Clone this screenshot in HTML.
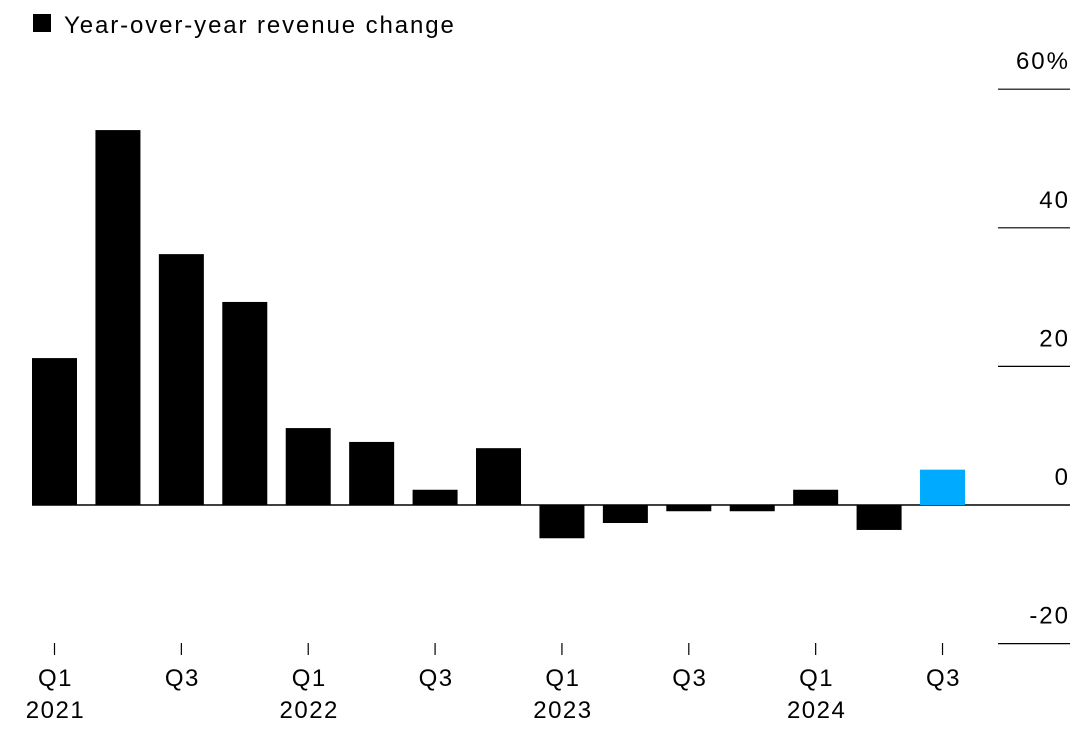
<!DOCTYPE html>
<html><head><meta charset="utf-8"><style>
body{margin:0;background:#fff;width:1088px;height:735px;overflow:hidden;font-family:"Liberation Sans",sans-serif}
svg text{font-family:"Liberation Sans",sans-serif;fill:#000}
</style></head><body>
<svg id="chart" width="1088" height="735">
<rect x="33" y="14" width="18" height="18" fill="#000"/>
<text x="64" y="33" font-size="24" letter-spacing="1.9">Year-over-year revenue change</text>
<g id="grid"></g><g id="bars"></g><g id="xaxis"></g>
</svg>
<script>
const categories=["Q1 2021","Q2 2021","Q3 2021","Q4 2021","Q1 2022","Q2 2022","Q3 2022","Q4 2022","Q1 2023","Q2 2023","Q3 2023","Q4 2023","Q1 2024","Q2 2024","Q3 2024"];
const values=[21.2,54.1,36.2,29.3,11.1,9.1,2.2,8.2,-4.8,-2.6,-0.9,-0.9,2.2,-3.6,5.1];
const yTicks=[60,40,20,0,-20];
const yTickLabels=["60%","40","20","0","-20"];
const xTickIdx=[0,2,4,6,8,10,12,14];
const xTickLabels=[["Q1","2021"],["Q3",""],["Q1","2022"],["Q3",""],["Q1","2023"],["Q3",""],["Q1","2024"],["Q3",""]];
const NS="http://www.w3.org/2000/svg";
const y=v=>505-v*6.93;
const step=63.43, x0=32, bw=45;
const xc=i=>x0+bw/2+i*step;
function mk(t,a,p){const e=document.createElementNS(NS,t);for(const k in a)e.setAttribute(k,a[k]);p.appendChild(e);return e;}
const grid=document.getElementById('grid');
yTicks.forEach((v,i)=>{
 const l=mk('line',{x1:v===0?32:998,x2:1070,y1:y(v),y2:y(v),stroke:'#000','stroke-width':v===0?1.5:1.2},grid);
 
 
 const t=mk('text',{x:1070,y:y(v)-20,'font-size':24,'letter-spacing':2,'text-anchor':'end'},grid);
 t.textContent=yTickLabels[i];
 
 
});
const bars=document.getElementById('bars');
values.forEach((v,i)=>{
 const r=mk('rect',{x:xc(i)-bw/2,width:bw,y:Math.min(y(v),y(0)),height:Math.abs(y(v)-y(0)),fill:i===values.length-1?'#00aaff':'#000'},bars);
 
 
});
const xa=document.getElementById('xaxis');
xTickIdx.forEach((idx,i)=>{
 const l=mk('line',{x1:xc(idx),x2:xc(idx),y1:643,y2:655,stroke:'#000','stroke-width':1.2},xa);
 
 
 const t=mk('text',{x:xc(idx)+1,y:686,'font-size':24,'letter-spacing':1.5,'text-anchor':'middle'},xa);
 t.textContent=xTickLabels[i][0];
 
 
 if(xTickLabels[i][1]){
  const t2=mk('text',{x:xc(idx)+1,y:718,'font-size':24,'letter-spacing':1.5,'text-anchor':'middle'},xa);
  t2.textContent=xTickLabels[i][1];
  
  
 }
});
</script>
</body></html>
